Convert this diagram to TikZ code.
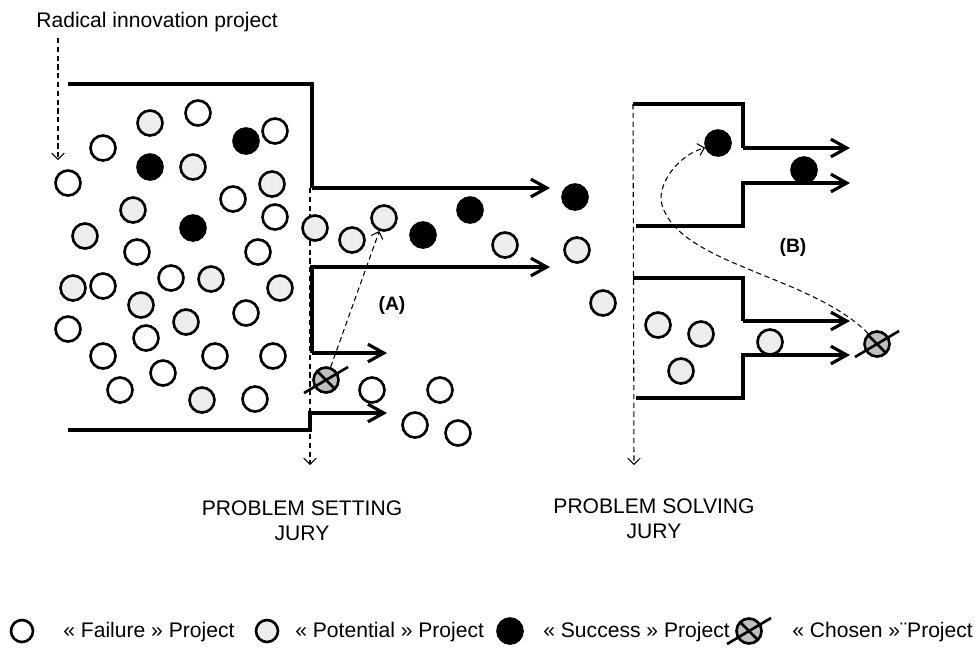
\documentclass[tikz,border=0pt]{standalone}
\usepackage{fontspec}
\setmainfont{Liberation Sans}
\usetikzlibrary{arrows.meta}

\tikzset{
	wall/.style={line width=1.8pt},
	flow/.style={wall, -{Straight Barb[length=9pt, width=10pt]}},
	jury/.style={line width=0.6pt, dash pattern=on 3pt off 2pt, -{Straight Barb[length=3.5pt, width=7pt]}},
	fail/.style={circle, draw, line width=1.5pt, fill=white, inner sep=0pt, minimum size=0.5cm},
	pot/.style={fail, fill=black!7},
	succ/.style={fail, fill=black},
	lbl/.style={inner sep=0pt, font=\fontsize{12}{14.5}\selectfont},
	tag/.style={inner sep=0pt, font=\fontsize{11}{13}\selectfont\bfseries},
	chosen/.pic={
		\node[fail, fill=black!25] (-c) {};
		\draw[line width=1.5pt] (-8,-8) -- (8,8);
		\draw[line width=1.5pt] (-22,13) -- (22,-13);
	}
}

\begin{document}
\begin{tikzpicture}[x=0.02cm, y=-0.02cm]
				\useasboundingbox (0,0) rectangle (979,647);
				
				\node[lbl, anchor=base west] (radical) at (36,27) {Radical innovation project};
				\draw[jury] (58,38) -- (58,160);
				
				\draw[wall] (68,84) -- (312,84) -- (312,188);
				\draw[flow] (312,188) -- (550,188);
				\draw[flow] (312,353) -- (312,267) -- (550,267);
				\draw[flow] (312,353) -- (387,353);
				\draw[flow] (68,430) -- (310,430) -- (310,413) -- (387,413);
				\draw[jury] (310,188) -- (310,465);
				
				\foreach \x/\y [count=\i] in {198/113, 103/148, 275/131, 68/183, 233/199, 275/217, 137/252, 258/252, 103/286, 171/278, 246/313, 68/329, 146/338, 103/356, 215/356, 273/356, 163/373, 120/390, 255/399, 372/390, 440/390, 415/425, 458/433}
					\node[fail] (f\i) at (\x,\y) {};
				\foreach \x/\y [count=\i] in {150/123, 193/167, 272/184, 133/210, 85/236, 73/288, 211/279, 280/288, 141/305, 186/322, 202/400, 315/228, 352/240, 505/245, 577/250, 603/303, 658/325, 701/334, 681/371, 770/342}
					\node[pot] (p\i) at (\x,\y) {};
				\foreach \x/\y [count=\i] in {246/141, 150/167, 193/228, 423/235, 470/210, 575/197, 804/170}
					\node[succ] (s\i) at (\x,\y) {};
				\node[pot] (pa) at (384,218) {};
				\node[succ] (sb) at (718,143) {};
				
				\draw[wall] (633,104) -- (743,104) -- (743,148);
				\draw[flow] (743,148) -- (850,148);
				\draw[flow] (636,226) -- (743,226) -- (743,183) -- (850,183);
				\draw[wall] (633,278) -- (743,278) -- (743,321);
				\draw[flow] (743,321) -- (850,321);
				\draw[flow] (636,398) -- (743,398) -- (743,355) -- (850,355);
				\draw[jury] (633,104) -- (634,465);
				
				\pic (ca) at (326,380) {chosen};
				\pic (cb) at (877,344) {chosen};
				\draw[jury] (ca-c) -- (pa);
				\draw[jury] (cb-c.130) .. controls (810,275) and (680,265) .. (662,205) .. controls (656,185) and (678,155) .. (sb.200);
				\node[tag] (tagA) at (392,305) {(A)};
				\node[tag] (tagB) at (793,247) {(B)};
				
				\node[lbl, align=center, anchor=north] (setting) at (302,500) {PROBLEM SETTING\\JURY};
				\node[lbl, align=center, anchor=north] (solving) at (654,498) {PROBLEM SOLVING\\JURY};
				
				\node[fail, minimum size=0.44cm] (kf) at (22,631) {};
				\node[lbl, anchor=base west] (tf) at (63,637) {« Failure » Project};
				\node[pot, minimum size=0.44cm] (kp) at (267,631) {};
				\node[lbl, anchor=base west] (tp) at (295,637) {« Potential » Project};
				\node[succ] (ks) at (510,631) {};
				\node[lbl, anchor=base west] (ts) at (543,637) {« Success » Project};
				\pic (kc) at (749,631) {chosen};
				\node[lbl, anchor=base west] (tc) at (792,637) {« Chosen »¨Project};
			\end{tikzpicture}
\end{document}
